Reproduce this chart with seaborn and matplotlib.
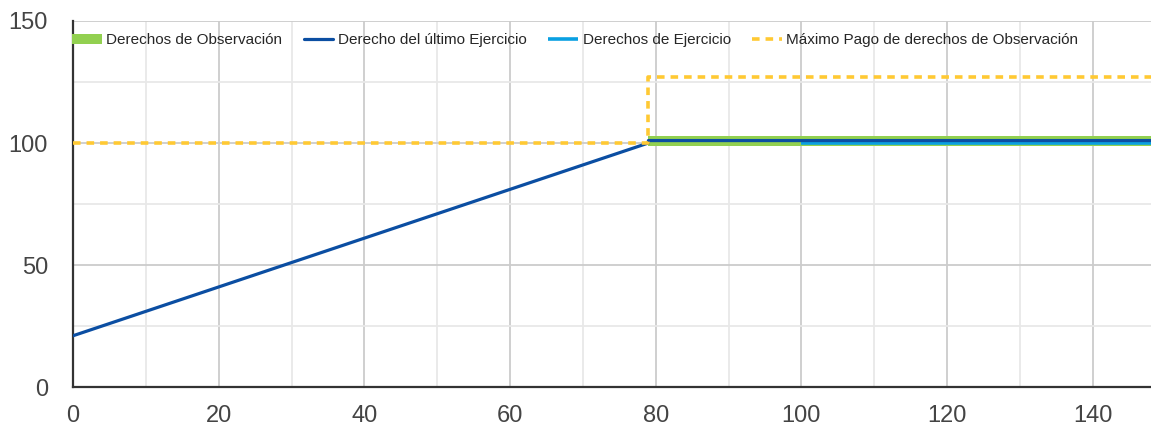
import matplotlib
matplotlib.use("Agg")
import matplotlib.pyplot as plt
import seaborn as sns
import pandas as pd
from matplotlib.ticker import MultipleLocator

# series values
obs_x = [79, 148]
obs_y = [101, 101]

ultimo_x = [0, 79, 79, 148]
ultimo_y = [21, 100, 101, 101]

ejercicio_x = [100, 148]
ejercicio_y = [100, 100]

maximo_x = [0, 79, 79, 148]
maximo_y = [100, 100, 127, 127]

labels = ["Derechos de Observación", "Derecho del último Ejercicio",
          "Derechos de Ejercicio", "Máximo Pago de derechos de Observación"]
colors = ["#92d050", "#0b4ea2", "#0aa0e2", "#ffc933"]

sns.set_style("white")
plt.rcParams["font.family"] = ["Liberation Sans", "DejaVu Sans"]

fig = plt.figure(figsize=(11.51, 4.25), dpi=100)
ax = fig.add_axes([73 / 1151, 38 / 425, 1 - 73 / 1151, (387 - 21) / 425])

df_obs = pd.DataFrame({"x": obs_x, "y": obs_y})
df_ult = pd.DataFrame({"x": ultimo_x, "y": ultimo_y})
df_eje = pd.DataFrame({"x": ejercicio_x, "y": ejercicio_y})
df_max = pd.DataFrame({"x": maximo_x, "y": maximo_y})

sns.lineplot(data=df_obs, x="x", y="y", sort=False, estimator=None,
             color=colors[0], lw=7.2, label=labels[0], ax=ax, zorder=3,
             solid_capstyle="butt")
sns.lineplot(data=df_ult, x="x", y="y", sort=False, estimator=None,
             color=colors[1], lw=2.3, label=labels[1], ax=ax, zorder=5)
sns.lineplot(data=df_eje, x="x", y="y", sort=False, estimator=None,
             color=colors[2], lw=2.6, label=labels[2], ax=ax, zorder=4,
             solid_capstyle="butt")
sns.lineplot(data=df_max, x="x", y="y", sort=False, estimator=None,
             color=colors[3], lw=2.6, label=labels[3], ax=ax, zorder=6,
             dashes=(2.1, 1.65))

ax.set_xlim(0, 148)
ax.set_ylim(0, 150)
ax.xaxis.set_major_locator(MultipleLocator(20))
ax.xaxis.set_minor_locator(MultipleLocator(10))
ax.yaxis.set_major_locator(MultipleLocator(50))
ax.yaxis.set_minor_locator(MultipleLocator(25))
ax.grid(which="major", color="#cccccc", lw=1.3)
ax.grid(which="minor", color="#e8e8e8", lw=1.3)
ax.set_axisbelow(True)
ax.set_xlabel("")
ax.set_ylabel("")

for s in ["top", "right"]:
    ax.spines[s].set_visible(False)
for s in ["left", "bottom"]:
    ax.spines[s].set_color("#333333")
    ax.spines[s].set_linewidth(1.6)

ax.tick_params(axis="both", which="both", length=0, labelsize=17,
               labelcolor="#444444")
ax.tick_params(axis="x", pad=13)
ax.tick_params(axis="y", pad=18)

handles, _ = ax.get_legend_handles_labels()
ax.legend(handles, labels, loc="upper left", bbox_to_anchor=(-0.001, 0.966),
          ncol=4, frameon=False, fontsize=11, handlelength=1.95,
          handletextpad=0.3, columnspacing=1.4, borderaxespad=0.0,
          borderpad=0.0)

fig.savefig("out.png", dpi=100)
